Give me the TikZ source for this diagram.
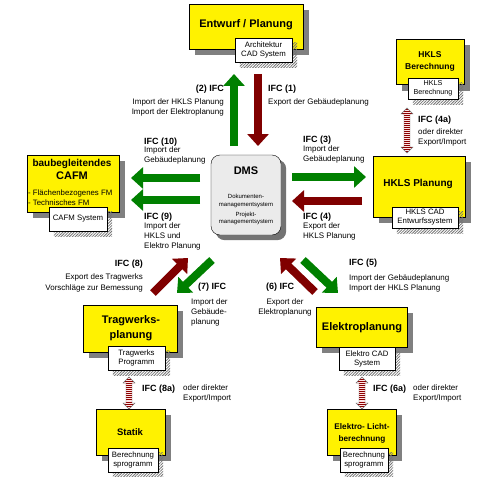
\documentclass[tikz,border=0pt]{standalone}
\usepackage{fontspec}
\setmainfont{Liberation Sans}
\usetikzlibrary{arrows.meta,patterns.meta,calc}
\pgfdeclarelayer{back}
\pgfdeclarelayer{front}
\pgfsetlayers{back,main,front}

\tikzset{
  ybox/.style={draw, fill=yellow, inner sep=0pt},
  subbox/.style={draw, fill=white, inner sep=0pt, align=center,
    font=\fontsize{7.8}{9}\selectfont},
  dmsbox/.style={draw, fill=black!8, rounded corners=9pt, inner sep=0pt},
  yshade/.style={fill=black!50},
  subshade/.style={pattern={Lines[angle=45,distance=2pt,line width=0.8pt]}, pattern color=black!55},
  ttl/.style={font=\fontsize{11}{15}\selectfont\bfseries, inner sep=0pt, align=center},
  lbl/.style={font=\fontsize{8}{10}\selectfont, inner sep=0pt},
  ifc/.style={font=\fontsize{9}{11}\selectfont\bfseries, inner sep=0pt},
  garrow/.style={draw=green!50!black, line width=8pt, -{Triangle[length=12pt,width=21pt]}},
  rarrow/.style={draw=red!50!black, line width=8pt, -{Triangle[length=12pt,width=21pt]}},
  dblarrow/.style={draw=black!55, preaction={fill=red!10},
    pattern={Lines[angle=0,distance=2pt,line width=1pt]}, pattern color=red!55!black}
}

\begin{document}
\begin{tikzpicture}[x=1pt,y=-1pt]
\useasboundingbox (0,0) rectangle (481,476);

% boxes
\node[ybox, minimum width=114pt, minimum height=45pt] (entw) at (246,26.5) {};
\node[ybox, minimum width=68pt, minimum height=45pt] (hber) at (430,62) {};
\node[ybox, minimum width=92pt, minimum height=57pt] (cafm) at (73,183.5) {};
\node[ybox, minimum width=92pt, minimum height=61pt] (hkls) at (419,186.5) {};
\node[ybox, minimum width=94pt, minimum height=47pt] (trag) at (130,328.5) {};
\node[ybox, minimum width=91pt, minimum height=40pt] (elek) at (361.5,327) {};
\node[ybox, minimum width=69pt, minimum height=46pt] (stat) at (130.5,432) {};
\node[ybox, minimum width=69pt, minimum height=46pt] (licht) at (361.5,432) {};
\node[dmsbox, minimum width=70pt, minimum height=80pt] (dms) at (246,195) {};

\begin{pgfonlayer}{front}
\node[subbox, minimum width=57pt, minimum height=24pt] (archsub) at (263.5,50) {Architektur\\CAD System};
\node[subbox, minimum width=50pt, minimum height=21pt, font=\fontsize{7.2}{9}\selectfont] (hbersub) at (433,88.5) {HKLS\\Berechnung};
\node[subbox, minimum width=58pt, minimum height=24pt] (cafmsub) at (78,219) {CAFM System};
\node[subbox, minimum width=66pt, minimum height=21pt] (hklssub) at (425,217.5) {HKLS CAD\\Entwurfssystem};
\node[subbox, minimum width=57pt, minimum height=24pt] (tragsub) at (136.5,358) {Tragwerks\\Programm};
\node[subbox, minimum width=56pt, minimum height=23pt] (eleksub) at (367,358.5) {Elektro CAD\\System};
\node[subbox, minimum width=50pt, minimum height=24pt] (statsub) at (133,460) {Berechnung\\sprogramm};
\node[subbox, minimum width=48pt, minimum height=24pt] (lichtsub) at (364,460) {Berechnung\\sprogramm};
\end{pgfonlayer}

% shadows
\foreach \n in {archsub,hbersub,cafmsub,hklssub,tragsub,eleksub,statsub,lichtsub}
  \fill[subshade] ($(\n.south west)+(5,5)$) rectangle ($(\n.north east)+(5,5)$);
\begin{pgfonlayer}{back}
\foreach \n in {entw,hber,cafm,hkls,trag,elek,stat,licht}
  \fill[yshade] ($(\n.south west)+(6,6)$) rectangle ($(\n.north east)+(6,6)$);
\fill[black!55, rounded corners=9pt] ($(dms.south west)+(5,5)$) rectangle ($(dms.north east)+(5,5)$);
\end{pgfonlayer}

% titles
\node[ttl] (entwt) at (246,25) {Entwurf / Planung};
\node[ttl, font=\fontsize{8.5}{12}\selectfont\bfseries] (hbert) at (430,61) {HKLS\\Berechnung};
\node[ttl, font=\fontsize{10}{13}\selectfont\bfseries] (cafmt) at (72,169.5) {baubegleitendes\\\fontsize{11}{13}\selectfont CAFM};
\node[lbl, anchor=west, align=left, font=\fontsize{7.8}{9.5}\selectfont] (cafmi) at (28,197.5) {- Flächenbezogenes FM\\- Technisches FM};
\node[ttl, font=\fontsize{10}{13}\selectfont\bfseries] (hklst) at (418,184) {HKLS Planung};
\node[ttl] (tragt) at (131,328.5) {Tragwerks-\\planung};
\node[ttl] (elekt) at (362,328) {Elektroplanung};
\node[ttl, font=\fontsize{9.5}{12}\selectfont\bfseries] (statt) at (130,432) {Statik};
\node[ttl, font=\fontsize{8.2}{12}\selectfont\bfseries] (lichtt) at (362,433) {Elektro- Licht-\\berechnung};
\node[ttl] (dmst) at (246,171) {DMS};
\node[font=\fontsize{6}{7.5}\selectfont, inner sep=0pt, align=center] (dmsa) at (246,209.5)
  {Dokumenten-\\managementsystem\\[2.5pt]Projekt-\\managementsystem};

% arrow ends
\coordinate (a2s) at (234,146); \coordinate (a2e) at (234,74);
\coordinate (a1s) at (258,74);  \coordinate (a1e) at (258,146);
\coordinate (a10s) at (200,178); \coordinate (a10e) at (131,178);
\coordinate (a9s) at (200,200);  \coordinate (a9e) at (131,200);
\coordinate (a3s) at (292,177);  \coordinate (a3e) at (366,177);
\coordinate (a4s) at (362,201);  \coordinate (a4e) at (292,201);
\coordinate (a8s) at (153,293);  \coordinate (a8e) at (188,258);
\coordinate (a7s) at (212,260);  \coordinate (a7e) at (177,293);
\coordinate (a6s) at (315,292);  \coordinate (a6e) at (280,258);
\coordinate (a5s) at (303,260);  \coordinate (a5e) at (338,293);
\coordinate (a4at) at (407,108); \coordinate (a4ab) at (407,153);
\coordinate (a8at) at (129,377); \coordinate (a8ab) at (129,409);
\coordinate (a6at) at (362,377); \coordinate (a6ab) at (362,409);

\foreach \s/\e in {a2s/a2e,a10s/a10e,a9s/a9e,a3s/a3e,a7s/a7e,a5s/a5e}
  \draw[garrow] (\s) -- (\e);
\foreach \s/\e in {a1s/a1e,a4s/a4e,a8s/a8e,a6s/a6e}
  \draw[rarrow] (\s) -- (\e);
\foreach \t/\b in {a4at/a4ab,a8at/a8ab,a6at/a6ab}
  \filldraw[dblarrow] (\t) -- ++(6,6) -- ++(-3,0) -- ($(\b)+(3,-6)$) -- ++(3,0) -- (\b)
    -- ++(-6,-6) -- ++(3,0) -- ($(\t)+(-3,6)$) -- ++(-3,0) -- cycle;

% labels
\node[ifc, anchor=east] (l2) at (224,89) {(2) IFC};
\node[lbl, anchor=north east, align=right] (l2t) at (224,99) {Import der HKLS Planung\\Import der Elektroplanung};
\node[ifc, anchor=west] (l1) at (268,89) {IFC (1)};
\node[lbl, anchor=north west] (l1t) at (268,99) {Export der Gebäudeplanung};
\node[ifc, anchor=west] (l10) at (144,142) {IFC (10)};
\node[lbl, anchor=north west, align=left] (l10t) at (144,147) {Import der\\Gebäudeplanung};
\node[ifc, anchor=west] (l9) at (144,217) {IFC (9)};
\node[lbl, anchor=north west, align=left] (l9t) at (144,223) {Import der\\HKLS und\\Elektro Planung};
\node[ifc, anchor=west] (l3) at (303,140) {IFC (3)};
\node[lbl, anchor=north west, align=left] (l3t) at (303,146) {Import der\\Gebäudeplanung};
\node[ifc, anchor=west] (l4) at (303,217) {IFC (4)};
\node[lbl, anchor=north west, align=left] (l4t) at (303,223) {Export der\\HKLS Planung};
\node[ifc, anchor=west] (l4a) at (418,120) {IFC (4a)};
\node[lbl, anchor=north west, align=left] (l4at) at (418,129) {oder direkter\\Export/Import};
\node[ifc, anchor=east] (l8) at (143,264) {IFC (8)};
\node[lbl, anchor=north east, align=right] (l8t) at (143,274) {Export des Tragwerks\\Vorschläge zur Bemessung};
\node[ifc, anchor=west] (l7) at (198,287) {(7) IFC};
\node[lbl, anchor=north west, align=left] (l7t) at (191,298) {Import der\\Gebäude-\\planung};
\node[ifc, anchor=west] (l5) at (349,263) {IFC (5)};
\node[lbl, anchor=north west, align=left] (l5t) at (349,275) {Import der Gebäudeplanung\\Import der HKLS Planung};
\node[ifc, anchor=west] (l6) at (266,287) {(6) IFC};
\node[lbl, anchor=north, align=center] (l6t) at (285,298) {Export der\\Elektroplanung};
\node[ifc, anchor=west] (l8a) at (142,389) {IFC (8a)};
\node[lbl, anchor=north west, align=left] (l8at) at (183,384) {oder direkter\\Export/Import};
\node[ifc, anchor=west] (l6a) at (373,389) {IFC (6a)};
\node[lbl, anchor=north west, align=left] (l6at) at (413,384) {oder direkter\\Export/Import};
\end{tikzpicture}
\end{document}
